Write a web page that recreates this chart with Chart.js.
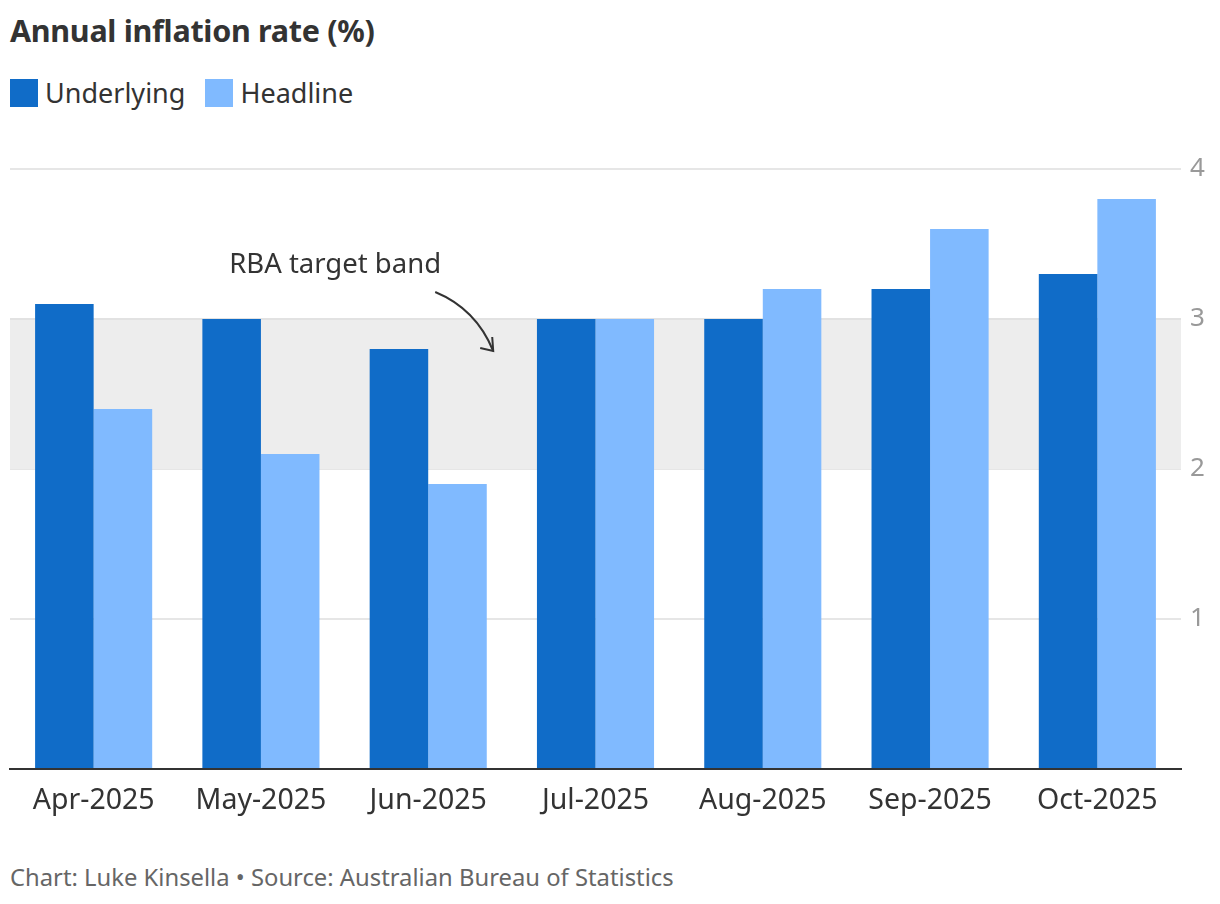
<!DOCTYPE html>
<html>
<head>
<meta charset="utf-8">
<script src="https://cdn.jsdelivr.net/npm/chart.js@4"></script>
<style>
  body { margin: 0; background: #fff; font-family: "Noto Sans", sans-serif; color: #333; }
  .wrap { position: relative; width: 1220px; height: 904px; }
  h1 { position: absolute; left: 10px; top: 9px; margin: 0; font-size: 30.5px; font-weight: 700; color: #333; letter-spacing: -0.3px; }
  .legend { position: absolute; left: 10px; top: 74px; font-size: 27px; color: #333; display: flex; align-items: center; }
  .legend span.sw { display: inline-block; width: 28px; height: 28px; margin-right: 7px; }
  .legend .item { display: flex; align-items: center; margin-right: 20px; }
  .chart { position: absolute; left: 0; top: 130px; width: 1220px; height: 689px; }
  .foot { position: absolute; left: 10px; top: 861px; font-size: 23.8px; color: #666; }
</style>
</head>
<body>
<div class="wrap">
  <h1>Annual inflation rate (%)</h1>
  <div class="legend">
    <div class="item"><span class="sw" style="background:#106cc8"></span>Underlying</div>
    <div class="item"><span class="sw" style="background:#80baff"></span>Headline</div>
  </div>
  <div class="chart"><canvas id="c"></canvas></div>
  <div class="foot">Chart: Luke Kinsella • Source: Australian Bureau of Statistics</div>
</div>
<script>
const months = ['Apr-2025', 'May-2025', 'Jun-2025', 'Jul-2025', 'Aug-2025', 'Sep-2025', 'Oct-2025'];
const underlying = [3.1, 3.0, 2.8, 3.0, 3.0, 3.2, 3.3];
const headline = [2.4, 2.1, 1.9, 3.0, 3.2, 3.6, 3.8];
const bandLow = 2;
const bandHigh = 3;

// grey target band behind the bars
const bandPlugin = {
  id: 'band',
  beforeDatasetsDraw(chart) {
    const { ctx, chartArea, scales } = chart;
    const top = scales.y.getPixelForValue(bandHigh);
    const bottom = scales.y.getPixelForValue(bandLow);
    ctx.save();
    ctx.fillStyle = '#ededed';
    ctx.fillRect(chartArea.left, top, chartArea.right - chartArea.left, bottom - top);
    ctx.strokeStyle = '#e2e2e2';
    ctx.lineWidth = 2;
    ctx.beginPath();
    ctx.moveTo(chartArea.left, top);
    ctx.lineTo(chartArea.right, top);
    ctx.stroke();
    ctx.restore();
  }
};

// "RBA target band" note with curved arrow
const notePlugin = {
  id: 'note',
  afterDatasetsDraw(chart) {
    const { ctx, scales } = chart;
    const x0 = scales.x.getPixelForValue(2);
    const yBand = scales.y.getPixelForValue(bandHigh);
    ctx.save();
    ctx.fillStyle = '#333';
    ctx.font = '27.5px "Noto Sans", sans-serif';
    ctx.textBaseline = 'middle';
    ctx.fillText('RBA target band', x0 - 199, yBand - 54);
    const sx = x0 + 7, sy = yBand - 27;
    const ex = x0 + 65, ey = yBand + 32;
    ctx.strokeStyle = '#333';
    ctx.lineWidth = 2;
    ctx.beginPath();
    ctx.moveTo(sx, sy);
    ctx.quadraticCurveTo(x0 + 48, yBand - 10, ex, ey);
    ctx.stroke();
    ctx.beginPath();
    ctx.moveTo(ex - 13, ey - 3);
    ctx.lineTo(ex, ey);
    ctx.lineTo(ex - 1, ey - 14);
    ctx.stroke();
    ctx.restore();
  }
};

new Chart(document.getElementById('c'), {
  type: 'bar',
  data: {
    labels: months,
    datasets: [
      { label: 'Underlying', data: underlying, backgroundColor: '#106cc8', barPercentage: 1, categoryPercentage: 0.7 },
      { label: 'Headline', data: headline, backgroundColor: '#80baff', barPercentage: 1, categoryPercentage: 0.7 }
    ]
  },
  options: {
    responsive: true,
    maintainAspectRatio: false,
    animation: false,
    layout: { padding: { left: 10, top: 39, right: 0, bottom: 0 } },
    plugins: { legend: { display: false }, tooltip: { enabled: false } },
    scales: {
      x: {
        grid: { display: false },
        border: { color: '#333', width: 2 },
        ticks: { color: '#333', font: { family: 'Noto Sans', size: 28.5 }, padding: 7, maxRotation: 0 },
        afterFit(s) { s.height = 50; }
      },
      y: {
        position: 'right',
        min: 0,
        max: 4,
        border: { display: false },
        grid: { color: '#e6e6e6', lineWidth: 2, drawTicks: false },
        ticks: {
          stepSize: 1,
          color: '#999',
          padding: 9,
          font: { family: 'Noto Sans', size: 26 },
          callback: v => v === 0 ? '' : v
        },
        afterFit(s) { s.width = 39; }
      }
    }
  },
  plugins: [bandPlugin, notePlugin]
});
</script>
</body>
</html>
